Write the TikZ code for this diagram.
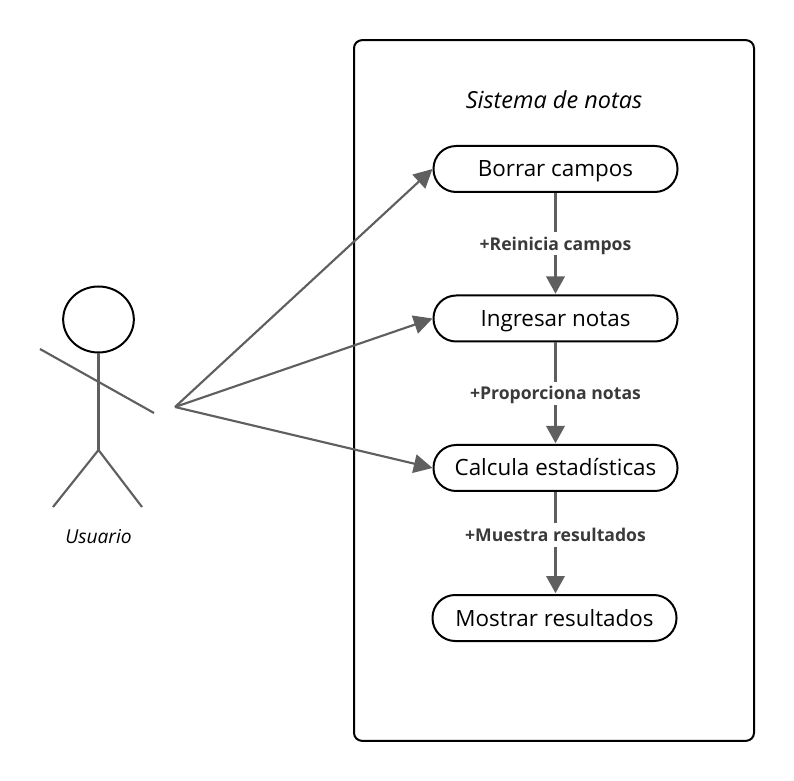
\documentclass[tikz,border=0pt]{standalone}
\usepackage{fontspec}
\setmainfont{Open Sans}
\usetikzlibrary{arrows.meta,shapes.geometric}

\definecolor{linegray}{HTML}{5F5F5F}
\definecolor{labelgray}{HTML}{3A3A3A}

\tikzset{
	casouso/.style={draw=black, line width=1.5pt, rounded corners=17pt, fill=white, minimum width=183pt, minimum height=34.5pt, inner sep=0pt, text height=12pt, text depth=0pt, font=\fontsize{16.8}{20}\selectfont},
	flujo/.style={draw=linegray, line width=2.6pt, -{Triangle[length=13pt,width=13.5pt]}, shorten >=0.5pt},
	asocia/.style={draw=linegray, line width=1.6pt, -{Triangle[length=14pt,width=14pt]}},
	monigote/.style={draw=linegray, line width=1.6pt},
	etiqueta/.style={fill=white, text=labelgray, inner xsep=2pt, inner ysep=4pt, text height=9.5pt, text depth=0pt, font=\fontsize{13.2}{16}\selectfont\bfseries}
}

\begin{document}
\begin{tikzpicture}[x=0.75pt,y=-0.75pt]
	\useasboundingbox (0,0) rectangle (794,781);

	% Sistema
	\node [draw=black, line width=1.5pt, rounded corners=6pt, minimum width=300pt, minimum height=525.5pt, inner sep=0pt] (sistema) at (554,390.5) {};
	\node [font=\fontsize{17.6}{20}\selectfont\itshape] (titulo) at (554,100) {Sistema de notas};

	% Casos de uso
	\node [casouso] (borrar) at (555.5,169) {Borrar campos};
	\node [casouso] (ingresar) at (555.5,318.5) {Ingresar notas};
	\node [casouso] (calcula) at (555.5,468) {Calcula estadísticas};
	\node [casouso] (mostrar) at (554.5,618) {Mostrar resultados};

	% Actor
	\node [draw=black, line width=1.5pt, ellipse, minimum width=53pt, minimum height=49.5pt, inner sep=0pt] (cabeza) at (98.5,319.5) {};
	\coordinate (cadera) at (98.5,450);
	\coordinate (brazoizq) at (40,349);
	\coordinate (brazoder) at (154,413);
	\coordinate (pieizq) at (53,507);
	\coordinate (pieder) at (142,507);
	\draw [monigote] (cabeza.south) -- (cadera);
	\draw [monigote] (brazoizq) -- (brazoder);
	\draw [monigote] (pieizq) -- (cadera) -- (pieder);
	\node [font=\fontsize{14.4}{17}\selectfont\itshape] (usuario) at (98.5,537) {Usuario};

	% Asociaciones
	\coordinate (origen) at (175,407);
	\draw [asocia] (origen) -- (borrar.west);
	\draw [asocia] (origen) -- (ingresar.west);
	\draw [asocia] (origen) -- (calcula.west);

	% Flujo entre casos
	\draw [flujo] (borrar) -- (ingresar) node [etiqueta, midway] (reinicia) {+Reinicia campos};
	\draw [flujo] (ingresar) -- (calcula) node [etiqueta, midway] (proporciona) {+Proporciona notas};
	\draw [flujo] (calcula) -- (calcula |- mostrar.north) node [etiqueta, pos=0.42] (muestra) {+Muestra resultados};
\end{tikzpicture}
\end{document}
